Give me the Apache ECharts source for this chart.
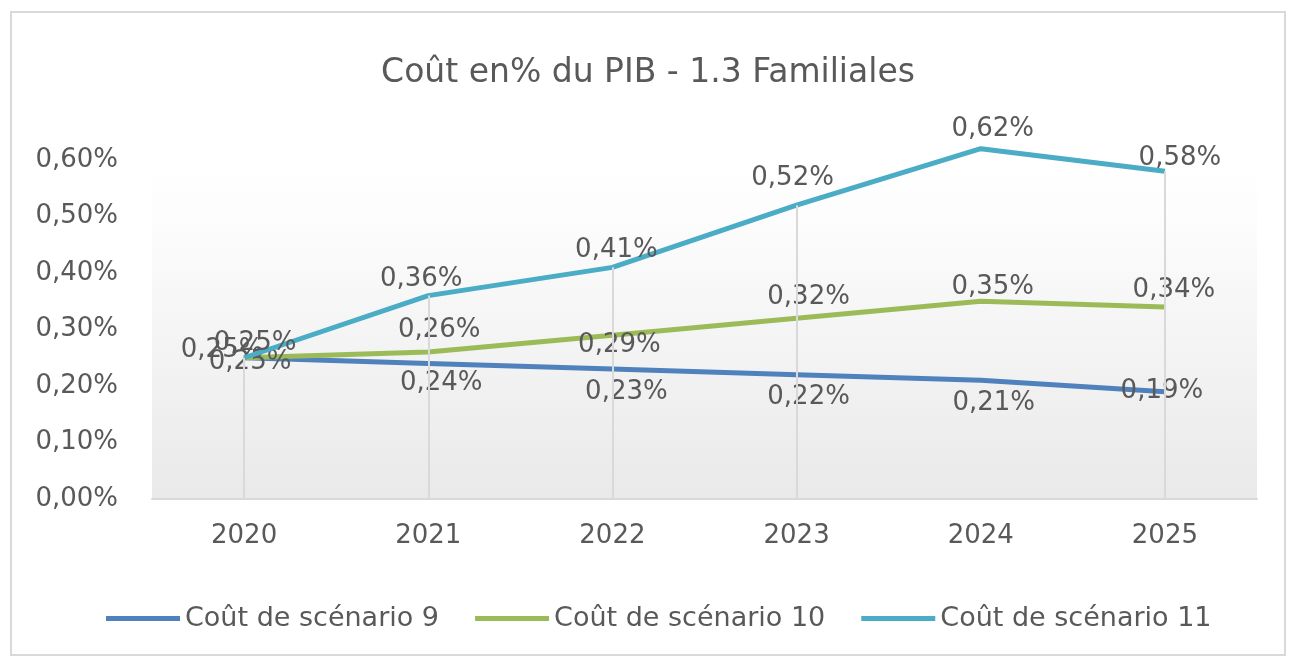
<!DOCTYPE html>
<html lang="fr">
<head>
    <meta charset="UTF-8">
    <script src="https://cdn.jsdelivr.net/npm/echarts@6.0.0/dist/echarts.min.js"></script>
    <title>Coût en% du PIB</title>
</head>
<body style="height: 100%; margin: 0; background: #ffffff">
<div id="container" style="width: 1296px; height: 661px"></div>

<script>
    // données (en % du PIB)
    var years = ['2020', '2021', '2022', '2023', '2024', '2025'];
    var scen9 = [0.25, 0.24, 0.23, 0.22, 0.21, 0.19];
    var scen10 = [0.25, 0.26, 0.29, 0.32, 0.35, 0.34];
    var scen11 = [0.25, 0.36, 0.41, 0.52, 0.62, 0.58];
    var seriesNames = ['Coût de scénario 9', 'Coût de scénario 10', 'Coût de scénario 11'];

    // décalage des étiquettes (comme dans Excel)
    var off9 = [[6, 4], [13, 20], [14, 23], [12, 23], [13, 23], [-3, 0]];
    var off10 = [[-22, -8], [11, -22], [7, 10], [12, -21], [12, -14], [9, -17]];
    var off11 = [[11, -15], [-7, -16], [4, -17], [-4, -27], [12, -19], [15, -13]];

    var FONT = '"DejaVu Sans", sans-serif';
    var GREY = '#595959';

    function pct(v) {
        return v.toFixed(2).replace('.', ',') + '%';
    }

    function withLabels(values, offsets) {
        return values.map(function (v, i) {
            return {value: v, label: {offset: offsets[i]}};
        });
    }

    function lineSeries(name, color, values, offsets) {
        return {
            name: name,
            type: 'line',
            data: withLabels(values, offsets),
            symbol: 'circle',
            symbolSize: 1,
            clip: false,
            itemStyle: {color: color},
            lineStyle: {color: color, width: 5},
            label: {
                show: true,
                position: 'inside',
                color: GREY,
                fontSize: 26,
                fontFamily: FONT,
                formatter: function (p) { return pct(p.value); }
            }
        };
    }

    var dom = document.getElementById('container');
    var myChart = echarts.init(dom);

    var s11 = lineSeries(seriesNames[2], '#4BACC6', scen11, off11);
    // lignes de projection (du point le plus haut vers l'axe)
    s11.markLine = {
        silent: true,
        symbol: ['none', 'none'],
        label: {show: false},
        lineStyle: {color: '#d9d9d9', width: 2, type: 'solid'},
        data: scen11.map(function (v, i) {
            return [{coord: [i, v]}, {coord: [i, 0]}];
        })
    };
    s11.z = 4;

    var option = {
        animation: false,
        backgroundColor: '#ffffff',
        color: ['#4F81BD', '#9BBB59', '#4BACC6'],
        title: {
            text: 'Coût en% du PIB - 1.3 Familiales',
            left: 'center',
            top: 52,
            textStyle: {color: GREY, fontSize: 33, fontWeight: 'normal', fontFamily: FONT}
        },
        legend: {
            data: seriesNames,
            left: 101,
            top: 600,
            icon: 'rect',
            itemWidth: 74,
            itemHeight: 5,
            itemGap: 36,
            textStyle: {color: GREY, fontSize: 27, fontFamily: FONT}
        },
        graphic: [{
            type: 'rect',
            shape: {x: 11, y: 12, width: 1274, height: 643},
            style: {fill: 'none', stroke: '#d9d9d9', lineWidth: 2},
            z: -1
        }],
        grid: {
            left: 152,
            right: 39,
            top: 160,
            bottom: 162,
            show: true,
            borderWidth: 0,
            backgroundColor: new echarts.graphic.LinearGradient(0, 0, 0, 1, [
                {offset: 0, color: '#ffffff'},
                {offset: 0.15, color: '#fdfdfd'},
                {offset: 1, color: '#e9e9e9'}
            ])
        },
        xAxis: {
            type: 'category',
            data: years,
            boundaryGap: true,
            axisLine: {lineStyle: {color: '#d9d9d9', width: 2}},
            axisTick: {show: false},
            splitLine: {show: false},
            axisLabel: {color: GREY, fontSize: 26, fontFamily: FONT, margin: 24}
        },
        yAxis: {
            type: 'value',
            min: 0,
            max: 0.6,
            interval: 0.1,
            axisLine: {show: false},
            axisTick: {show: false},
            splitLine: {show: false},
            axisLabel: {
                color: GREY, fontSize: 26, fontFamily: FONT, margin: 34,
                formatter: function (v) { return pct(v); }
            }
        },
        series: [
            lineSeries(seriesNames[0], '#4F81BD', scen9, off9),
            lineSeries(seriesNames[1], '#9BBB59', scen10, off10),
            s11
        ]
    };

    myChart.setOption(option);
</script>
</body>
</html>
